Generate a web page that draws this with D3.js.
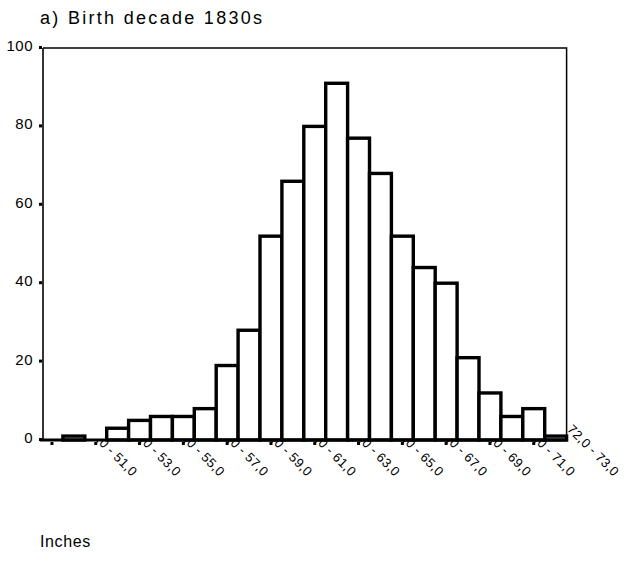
<!DOCTYPE html>
<html>
<head>
<meta charset="utf-8">
<script src="https://cdn.jsdelivr.net/npm/d3@7"></script>
<style>
  body { margin: 0; background: #fff; }
  svg { display: block; font-family: "Liberation Sans", Arial, sans-serif; }
</style>
</head>
<body>
<div id="chart"></div>
<script>
const title = "a) Birth decade 1830s";
const xTitle = "Inches";
// one bin per inch; only every other bin carries a label
const bins = [
  "", "49,0 - 50,0", "50,0 - 51,0", "51,0 - 52,0", "52,0 - 53,0", "53,0 - 54,0",
  "54,0 - 55,0", "55,0 - 56,0", "56,0 - 57,0", "57,0 - 58,0", "58,0 - 59,0",
  "59,0 - 60,0", "60,0 - 61,0", "61,0 - 62,0", "62,0 - 63,0", "63,0 - 64,0",
  "64,0 - 65,0", "65,0 - 66,0", "66,0 - 67,0", "67,0 - 68,0", "68,0 - 69,0",
  "69,0 - 70,0", "70,0 - 71,0", "71,0 - 72,0", "72,0 - 73,0"
];
const counts = [0, 1, 0, 3, 5, 6, 6, 8, 19, 28, 52, 66, 80, 91, 77, 68, 52, 44, 40, 21, 12, 6, 8, 1, 0];
const yTicks = [0, 20, 40, 60, 80, 100];

const width = 626, height = 571;
const bandW = 21.9;
const plotLeft = 41, plotTop = 48, plotBottom = 440;
const inFrame = 24; // bins drawn inside the frame

const svg = d3.select("#chart").append("svg")
  .attr("width", width).attr("height", height);

const x = d3.scaleBand()
  .domain(d3.range(bins.length))
  .range([plotLeft, plotLeft + bins.length * bandW])
  .padding(0);

const y = d3.scaleLinear().domain([0, 100]).range([plotBottom, plotTop]);

const frameRight = x(inFrame - 1) + x.bandwidth();
const axisX = 43;

// x labels: rotated; the part that falls inside the plot area is covered
svg.append("g")
  .selectAll("text")
  .data(bins.map((b, i) => ({ b, i })).filter((d) => d.i % 2 === 0))
  .join("text")
  .attr("transform", (d) => `translate(${x(d.i) + x.bandwidth() / 2 - 11},${plotBottom - 10}) rotate(45)`)
  .attr("font-size", 13)
  .attr("letter-spacing", 0.4)
  .attr("fill", "#000")
  .text((d) => d.b);

svg.append("rect")
  .attr("x", axisX).attr("y", plotTop)
  .attr("width", frameRight - axisX).attr("height", plotBottom - plotTop)
  .attr("fill", "#fff");

// frame
svg.append("path")
  .attr("d", `M${axisX},${plotTop}H${frameRight}V${plotBottom}`)
  .attr("fill", "none").attr("stroke", "#000").attr("stroke-width", 1.5);

// bars
svg.append("g")
  .selectAll("rect")
  .data(counts.map((c, i) => ({ c, i })).filter((d) => d.c > 0 && d.i < inFrame))
  .join("rect")
  .attr("x", (d) => x(d.i))
  .attr("y", (d) => y(d.c))
  .attr("width", x.bandwidth())
  .attr("height", (d) => plotBottom - y(d.c))
  .attr("fill", "#fff")
  .attr("stroke", "#000")
  .attr("stroke-width", 3.4);

// y axis
svg.append("line")
  .attr("x1", axisX).attr("x2", axisX).attr("y1", plotTop).attr("y2", plotBottom)
  .attr("stroke", "#000").attr("stroke-width", 1.6);

svg.append("g")
  .selectAll("rect")
  .data(yTicks)
  .join("rect")
  .attr("x", axisX - 4).attr("y", (d) => y(d) - 2)
  .attr("width", 3).attr("height", 3)
  .attr("fill", "#000");

svg.append("g")
  .selectAll("text")
  .data(yTicks)
  .join("text")
  .attr("x", 33)
  .attr("y", (d) => y(d) + 3)
  .attr("text-anchor", "end")
  .attr("font-size", 15)
  .attr("letter-spacing", 0.5)
  .text((d) => d);

// x axis
svg.append("line")
  .attr("x1", 40).attr("x2", frameRight).attr("y1", plotBottom).attr("y2", plotBottom)
  .attr("stroke", "#000").attr("stroke-width", 2.8);

svg.append("g")
  .selectAll("rect")
  .data(d3.range(0, inFrame, 2))
  .join("rect")
  .attr("x", (d) => x(d) + x.bandwidth() / 2 - 1.5)
  .attr("y", plotBottom + 2)
  .attr("width", 3).attr("height", 3)
  .attr("fill", "#000");

svg.append("text")
  .attr("x", 40).attr("y", 24)
  .attr("font-size", 18)
  .attr("letter-spacing", 2.3)
  .text(title);

svg.append("text")
  .attr("x", 40).attr("y", 547)
  .attr("font-size", 16)
  .attr("letter-spacing", 0.6)
  .text(xTitle);
</script>
</body>
</html>
